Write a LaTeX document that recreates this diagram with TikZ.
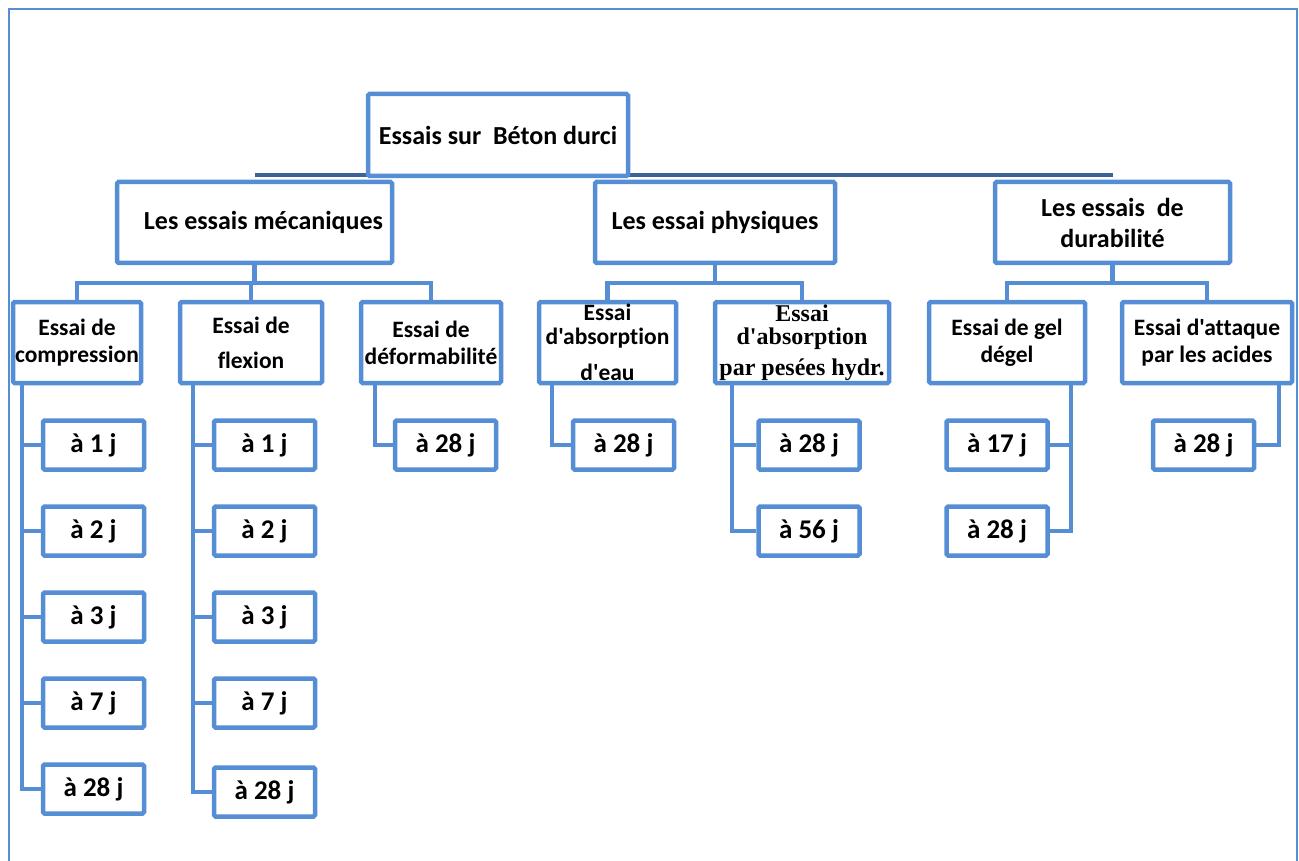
\documentclass[tikz,border=0pt]{standalone}
\usepackage{fontspec}
\setmainfont{Carlito}[Ligatures={TeXOff,NoCommon}]
\newfontfamily\timesfont{Liberation Serif}
\usetikzlibrary{positioning, backgrounds}
\definecolor{chartblue}{HTML}{558ED5}
\definecolor{busblue}{HTML}{3F6296}
\newcommand{\headfont}{\fontsize{26}{31}\selectfont\bfseries}
\newcommand{\testfont}{\fontsize{23.5}{27}\selectfont\bfseries}
\newcommand{\agefont}{\fontsize{27}{31}\selectfont\bfseries}

\begin{document}
\begin{tikzpicture}[
      x=1pt, y=-1pt,
      every node/.style={inner sep=0pt, align=center},
      rootbox/.style={draw=chartblue, line width=4.5pt, rounded corners=1.5pt, fill=white,
                      font=\headfont, minimum width=260pt, minimum height=82pt},
      groupbox/.style={draw=chartblue, line width=4.5pt, rounded corners=1.5pt, fill=white,
                       font=\headfont, minimum height=81pt},
      testbox/.style={draw=chartblue, line width=4.5pt, rounded corners=1.5pt, fill=white,
                      font=\testfont, minimum height=81pt},
      agebox/.style={draw=chartblue, line width=4.5pt, rounded corners=1.5pt, fill=white,
                     font=\agefont, minimum width=101pt, minimum height=49pt},
      link/.style={draw=chartblue, line width=4.5pt},
      bus/.style={draw=busblue, line width=4pt},
      frame/.style={draw=chartblue, line width=2.5pt},
    ]
    \useasboundingbox (0,0) rectangle (1299,861);
    \draw[frame] (9,9) rectangle (1297,880);

    % Top
    \node[rootbox] (root) at (498,135) {Essais sur\ \ Béton durci};
    % Groups
    \node[groupbox, minimum width=275pt] (mech) at (254.5,222.5) {\hspace*{18pt}Les essais mécaniques};
    \node[groupbox, minimum width=240pt] (phys) at (715,222.5)   {Les essai physiques};
    \node[groupbox, minimum width=235pt] (dur)  at (1112.5,222.5) {Les essais\ \ de\\durabilité};
    % Tests
    \node[testbox, minimum width=128pt] (comp)   at (77,342.5)   {Essai de\\compression};
    \node[testbox, minimum width=142pt] (flex)   at (251,342.5)  {Essai de\\[8pt]flexion};
    \node[testbox, minimum width=140pt] (defo)   at (431,342.5)  {Essai de\\déformabilité};
    \node[testbox, minimum width=137pt] (abseau) at (607.5,342.5) {Essai\\[-3pt]d'absorption\\[9pt]d'eau};
    \node[testbox, minimum width=174pt, font=\fontsize{24}{27}\selectfont\bfseries\timesfont] (abshyd) at (802,342.5)
         {Essai\\[-4pt]d'absorption\\[4pt]par pesées hydr.};
    \node[testbox, minimum width=156pt] (gel)    at (1007,342.5) {Essai de gel\\dégel};
    \node[testbox, minimum width=170pt] (acid)   at (1207,342.5) {Essai d'attaque\\par les acides};
    % Ages
    \node[agebox] (comp1) at (93.5,445) {à 1 j};
    \node[agebox] (comp2) at (93.5,531) {à 2 j};
    \node[agebox] (comp3) at (93.5,617) {à 3 j};
    \node[agebox] (comp4) at (93.5,703) {à 7 j};
    \node[agebox] (comp5) at (93.5,789) {à 28 j};
    \node[agebox] (flex1) at (264.5,445) {à 1 j};
    \node[agebox] (flex2) at (264.5,531) {à 2 j};
    \node[agebox] (flex3) at (264.5,617) {à 3 j};
    \node[agebox] (flex4) at (264.5,703) {à 7 j};
    \node[agebox] (flex5) at (264.5,792) {à 28 j};
    \node[agebox] (defo1) at (445.5,445) {à 28 j};
    \node[agebox] (abseau1) at (623.5,445) {à 28 j};
    \node[agebox] (abshyd1) at (809,445) {à 28 j};
    \node[agebox] (abshyd2) at (809,531) {à 56 j};
    \node[agebox] (gel1) at (997,445) {à 17 j};
    \node[agebox] (gel2) at (997,531) {à 28 j};
    \node[agebox] (acid1) at (1203.5,445) {à 28 j};

    % Links, kept under the boxes
    \coordinate (bus2) at (0,283);
    \coordinate (compspine) at (22,0);
    \coordinate (flexspine) at (193,0);
    \coordinate (defospine) at (375,0);
    \coordinate (abseauspine) at (552,0);
    \coordinate (abshydspine) at (732,0);
    \coordinate (gelspine) at (1071,0);
    \coordinate (acidspine) at (1279,0);
    \begin{scope}[on background layer]
      \draw[bus] ([yshift=4.5pt]mech.north) -- ([yshift=4.5pt]dur.north);

      \draw[link] (mech.south) -- (mech.south |- bus2);
      \draw[link] (comp.north) -- (comp.north |- bus2) -- (defo.north |- bus2) -- (defo.north);
      \draw[link] (flex.north) -- (flex.north |- bus2);
      \draw[link] (phys.south) -- (phys.south |- bus2);
      \draw[link] (abseau.north) -- (abseau.north |- bus2) -- (abshyd.north |- bus2) -- (abshyd.north);
      \draw[link] (dur.south) -- (dur.south |- bus2);
      \draw[link] (gel.north) -- (gel.north |- bus2) -- (acid.north |- bus2) -- (acid.north);

      \draw[link] (comp.south -| compspine) |- (comp5.west);
      \draw[link] (comp.south -| compspine) |- (comp1.west);
      \draw[link] (comp.south -| compspine) |- (comp2.west);
      \draw[link] (comp.south -| compspine) |- (comp3.west);
      \draw[link] (comp.south -| compspine) |- (comp4.west);
      \draw[link] (flex.south -| flexspine) |- (flex5.west);
      \draw[link] (flex.south -| flexspine) |- (flex1.west);
      \draw[link] (flex.south -| flexspine) |- (flex2.west);
      \draw[link] (flex.south -| flexspine) |- (flex3.west);
      \draw[link] (flex.south -| flexspine) |- (flex4.west);
      \draw[link] (defo.south -| defospine) |- (defo1.west);
      \draw[link] (abseau.south -| abseauspine) |- (abseau1.west);
      \draw[link] (abshyd.south -| abshydspine) |- (abshyd2.west);
      \draw[link] (abshyd.south -| abshydspine) |- (abshyd1.west);
      \draw[link] (gel.south -| gelspine) |- (gel2.east);
      \draw[link] (gel.south -| gelspine) |- (gel1.east);
      \draw[link] (acid.south -| acidspine) |- (acid1.east);
    \end{scope}
  \end{tikzpicture}
\end{document}
